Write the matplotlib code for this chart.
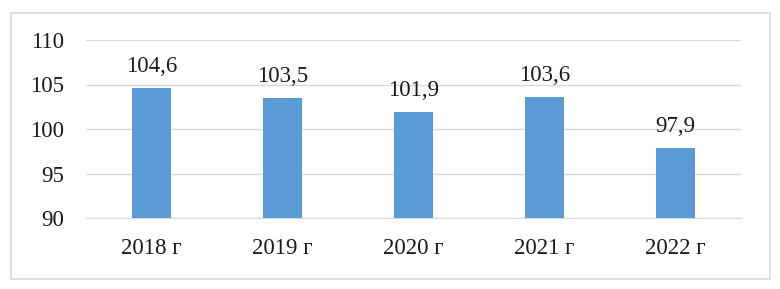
import matplotlib
matplotlib.use("Agg")
import matplotlib.pyplot as plt
from matplotlib.patches import Rectangle

categories = ["2018 г", "2019 г", "2020 г", "2021 г", "2022 г"]
values = [104.6, 103.5, 101.9, 103.6, 97.9]
yticks = [90, 95, 100, 105, 110]

plt.rcParams['font.family'] = ['Liberation Serif', 'DejaVu Serif']
FS = 16.5
TC = '#1a1a1a'

fig = plt.figure(figsize=(7.8, 2.89), dpi=100)
fig.patches.append(Rectangle((11/780, 1-279/289), 759/780, 266/289, transform=fig.transFigure,
                             fill=False, edgecolor='#d9d9d9', linewidth=1.2))
ax = fig.add_axes([86/780, 1-218/289, 655/780, 178/289])

x = list(range(len(categories)))
bars = ax.bar(x, [v - 90 for v in values], bottom=90, width=0.305, color='#5B9BD5', zorder=3)
ax.set_xlim(-0.5, len(categories) - 0.5)
ax.set_ylim(90, 110)
ax.set_yticks(yticks)
ax.set_yticklabels([str(t) for t in yticks], fontsize=FS, color=TC)
ax.set_xticks(x)
ax.set_xticklabels(categories, fontsize=FS, color=TC)
ax.tick_params(axis='both', length=0)
ax.tick_params(axis='y', pad=16)
ax.tick_params(axis='x', pad=14.5)
ax.grid(axis='y', color='#d9d9d9', linewidth=1, zorder=0)
for s in ['top', 'right', 'left']:
    ax.spines[s].set_visible(False)
ax.spines['bottom'].set_color('#d9d9d9')

for xi, v in zip(x, values):
    ax.annotate(f"{v:.1f}".replace('.', ','), (xi, v), xytext=(0, 11.5), textcoords='offset points',
                ha='center', va='baseline', fontsize=FS, color=TC)

fig.savefig("out.png", dpi=100)
